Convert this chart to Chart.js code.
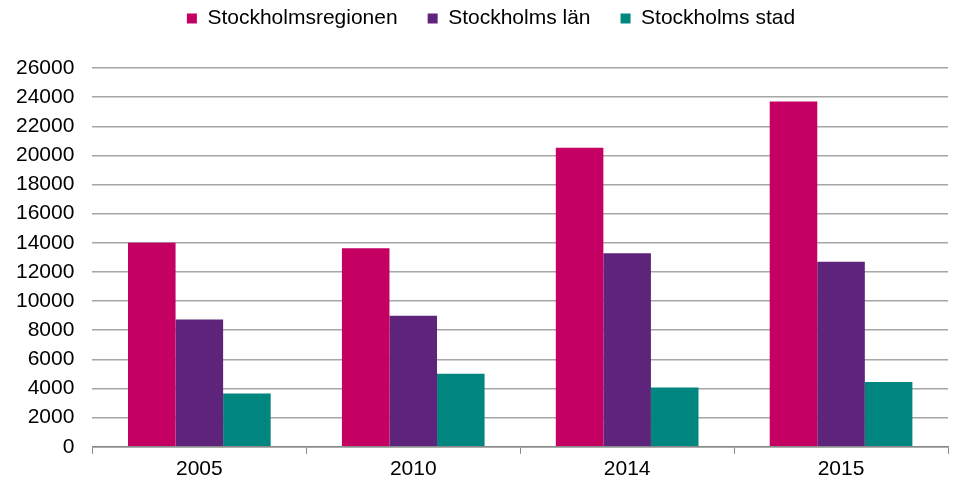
<!DOCTYPE html>
<html>
<head>
<meta charset="utf-8">
<script src="https://cdn.jsdelivr.net/npm/chart.js@4"></script>
<style>
  html, body { margin: 0; padding: 0; background: #fff; }
  #wrap { width: 953px; height: 483px; }
</style>
</head>
<body>
<div id="wrap"><canvas id="chart"></canvas></div>
<script>
// Chart data
const years = ['2005', '2010', '2014', '2015'];
const regionen = [14000, 13630, 20520, 23700];
const lan = [8730, 8990, 13290, 12710];
const stad = [3650, 5010, 4070, 4440];

const yMax = 26000;
const yStep = 2000;

Chart.defaults.font.family = '"Liberation Sans", Arial, sans-serif';
Chart.defaults.color = '#000';

// more room under the legend, and nudge it right a little
const legendGap = {
    id: 'legendGap',
    beforeInit(chart) {
        const fit = chart.legend.fit;
        chart.legend.fit = function () {
            fit.bind(chart.legend)();
            this.height += 29;
        };
    },
    afterLayout(chart) {
        chart.legend.left += 18;
        chart.legend.right += 18;
    }
};

new Chart(document.getElementById('chart'), {
    type: 'bar',
    data: {
        labels: years,
        datasets: [
            { label: 'Stockholmsregionen', data: regionen, backgroundColor: '#c40062' },
            { label: 'Stockholms län', data: lan, backgroundColor: '#5e237b' },
            { label: 'Stockholms stad', data: stad, backgroundColor: '#00867e' }
        ]
    },
    plugins: [legendGap],
    options: {
        responsive: true,
        maintainAspectRatio: false,
        animation: false,
        layout: { padding: { top: -22, right: 5, left: -2, bottom: -2 } },
        datasets: {
            bar: { categoryPercentage: 0.667, barPercentage: 1.0 }
        },
        plugins: {
            legend: {
                position: 'top',
                labels: {
                    boxWidth: 10,
                    boxHeight: 10,
                    padding: 30,
                    font: { size: 21 }
                }
            },
            tooltip: { enabled: false }
        },
        scales: {
            x: {
                grid: {
                    offset: true,
                    drawOnChartArea: false,
                    drawTicks: true,
                    tickLength: 7,
                    color: '#888'
                },
                border: { display: true, color: '#888', width: 1.5 },
                ticks: { font: { size: 21 }, padding: 3 }
            },
            y: {
                min: 0,
                max: yMax,
                ticks: {
                    stepSize: yStep,
                    font: { size: 21 },
                    padding: 18,
                    callback: v => String(v)
                },
                grid: { color: '#a6a6a6', lineWidth: 1.5, drawTicks: false },
                border: { display: false }
            }
        }
    }
});
</script>
</body>
</html>
